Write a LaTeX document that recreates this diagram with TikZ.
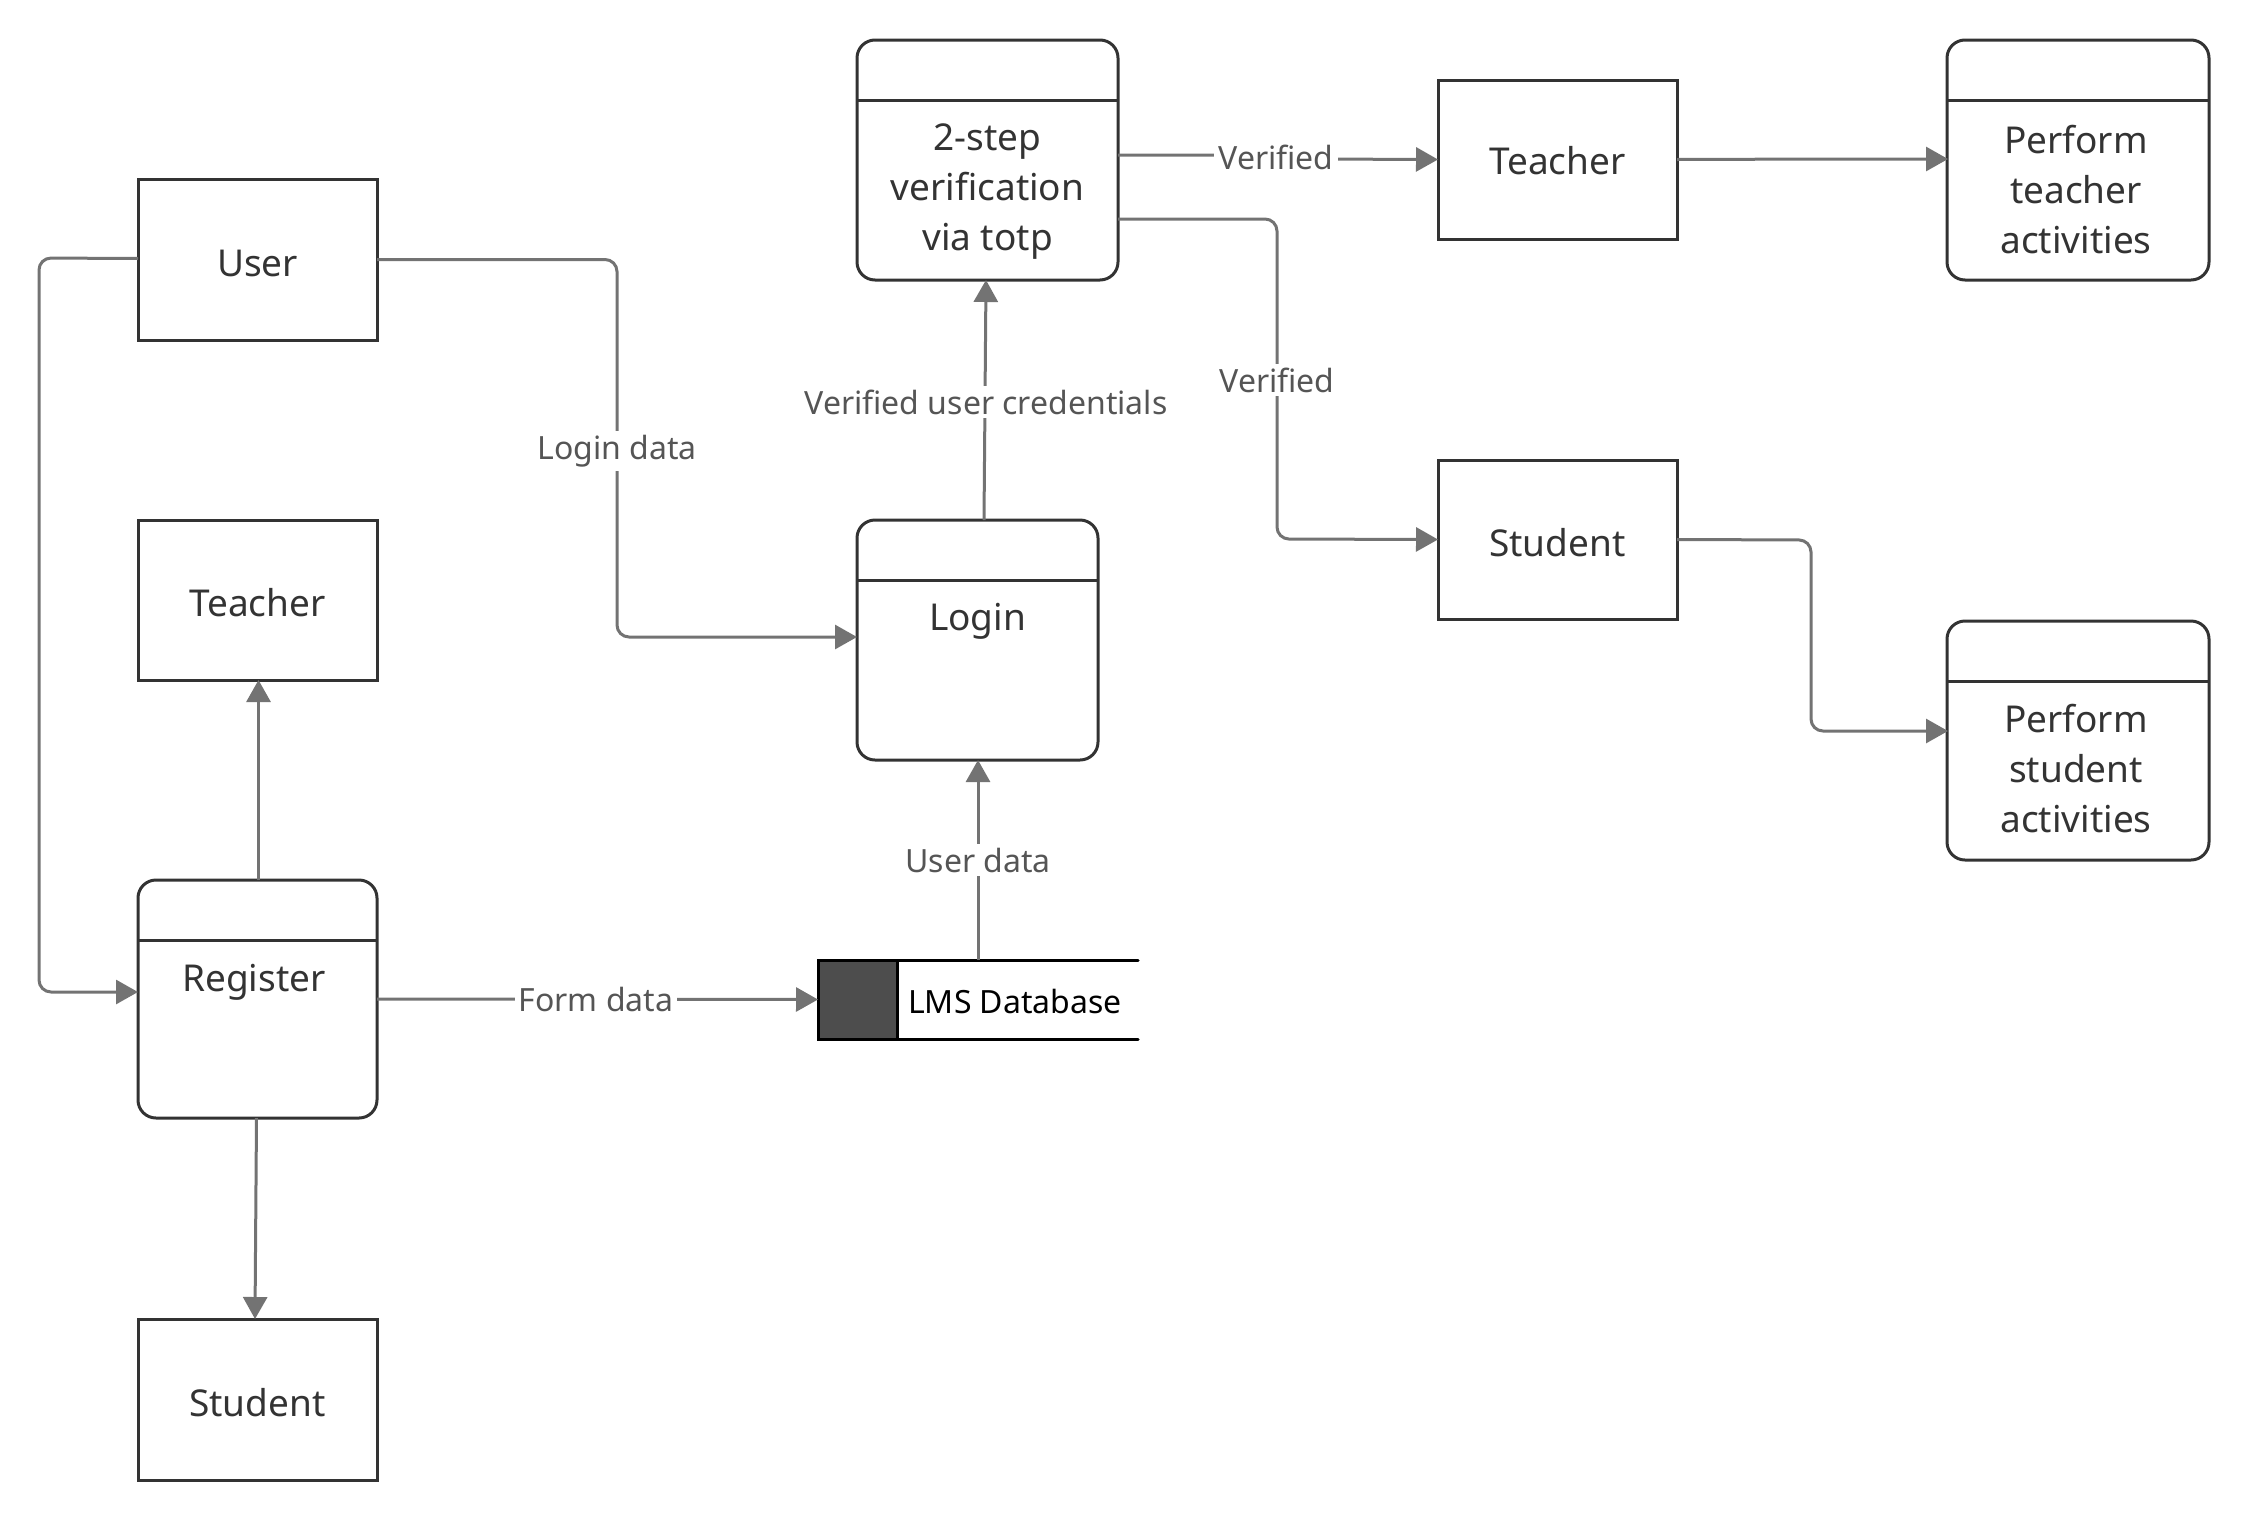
\documentclass[tikz,border=0pt]{standalone}
\usepackage{fontspec}
\setmainfont{Noto Sans}
\usetikzlibrary{arrows.meta,calc}
\definecolor{boxline}{HTML}{333333}
\definecolor{connline}{HTML}{737373}
\definecolor{lbltext}{HTML}{555555}
\definecolor{storefill}{HTML}{4D4D4D}
\tikzset{
  ent/.style={draw=boxline,line width=3pt,rectangle,inner sep=0pt,outer sep=0pt},
  proc/.style={draw=boxline,line width=3pt,rectangle,rounded corners=18pt,inner sep=0pt,outer sep=0pt},
  btext/.style={text=boxline,font=\fontsize{37}{50}\selectfont,align=center,inner sep=0pt},
  lbl/.style={text=lbltext,font=\fontsize{32}{38}\selectfont,fill=white,inner sep=4pt},
  conn/.style={draw=connline,line width=3pt,rounded corners=12pt,-{Triangle[length=22pt,width=24pt]}},
}
\begin{document}
\begin{tikzpicture}[x=1pt,y=-1pt]
\useasboundingbox (0,0) rectangle (2248,1521);
% entity boxes
\node[ent,minimum width=239pt,minimum height=161pt] (user) at (257.5,259.5) {};
\node[btext] (usert) at (257.5,263) {User};
\node[ent,minimum width=239pt,minimum height=160pt] (teacherL) at (257.5,600) {};
\node[btext] (teacherLt) at (257.5,603) {Teacher};
\node[ent,minimum width=239pt,minimum height=161pt] (studentL) at (257.5,1399.5) {};
\node[btext] (studentLt) at (257.5,1403) {Student};
\node[ent,minimum width=239pt,minimum height=159pt] (teacherR) at (1557.5,159.5) {};
\node[btext] (teacherRt) at (1557.5,161) {Teacher};
\node[ent,minimum width=239pt,minimum height=159pt] (studentR) at (1557.5,539.5) {};
\node[btext] (studentRt) at (1557.5,543) {Student};
% process boxes
\node[proc,minimum width=239pt,minimum height=238pt] (register) at (257.5,999) {};
\draw[boxline,line width=3pt] ([yshift=-60pt]register.north west) -- ([yshift=-60pt]register.north east);
\node[btext] (registert) at (254,982) {Register};
\node[proc,minimum width=241pt,minimum height=240pt] (login) at (977.5,640) {};
\draw[boxline,line width=3pt] ([yshift=-60pt]login.north west) -- ([yshift=-60pt]login.north east);
\node[btext] (logint) at (977.5,621) {Login};
\node[proc,minimum width=261pt,minimum height=240pt] (twostep) at (987.5,160) {};
\draw[boxline,line width=3pt] ([yshift=-60pt]twostep.north west) -- ([yshift=-60pt]twostep.north east);
\node[btext] (twostept) at (987.5,192) {2-step\\verification\\via totp};
\node[proc,minimum width=262pt,minimum height=240pt] (perfT) at (2078,160) {};
\draw[boxline,line width=3pt] ([yshift=-60pt]perfT.north west) -- ([yshift=-60pt]perfT.north east);
\node[btext] (perfTt) at (2076,190) {Perform\\teacher\\activities};
\node[proc,minimum width=262pt,minimum height=239pt] (perfS) at (2078,740.5) {};
\draw[boxline,line width=3pt] ([yshift=-60pt]perfS.north west) -- ([yshift=-60pt]perfS.north east);
\node[btext] (perfSt) at (2076,769) {Perform\\student\\activities};
% data store
\node[inner sep=0pt,outer sep=0pt,minimum width=320pt,minimum height=79pt] (lms) at (978,999.5) {};
\fill[storefill] (lms.north west) rectangle ([xshift=79pt]lms.south west);
\draw[black,line width=3pt,line cap=round] (lms.north east) -- (lms.north west) -- (lms.south west) -- (lms.south east);
\draw[black,line width=3pt] ([xshift=79pt]lms.north west) -- ([xshift=79pt]lms.south west);
\node[anchor=west,inner sep=0pt,text=black,font=\fontsize{32}{38}\selectfont] (lmst) at (908,1001) {LMS Database};
% connectors
\draw[conn] (user.east) -- (617,259.5) -- (617,637) -- (857,637);
\node[lbl] (l1) at (617,451) {Login data};
\draw[conn] ([yshift=1pt]user.west) -- (39,258) -- (39,992) -- (138,992);
\draw[conn] ([xshift=1pt]register.north) -- (258.5,680);
\draw[conn] ([xshift=-1pt]register.south) -- (255,1319);
\draw[conn] (register.east) -- (lms.west);
\node[lbl] (l2) at (596,999) {Form data};
\draw[conn] (lms.north) -- (978,760);
\node[lbl] (l3) at (978,860) {User data};
\draw[conn] (984,520) -- (986,280);
\node[lbl] (l4) at (986,402) {Verified user credentials};
\draw[conn] (1118,155) -- (1300,155) -- (1310,159) -- (teacherR.west);
\node[lbl] (l5) at (1276,157) {Verified};
\draw[conn] (1118,219) -- (1277,219) -- (1277,539) -- (teacherR.west |- studentR.west);
\node[lbl] (l6) at (1277,380) {Verified};
\draw[conn] (teacherR.east) -- (1830,159) -- (1948,159);
\draw[conn] (studentR.east) -- (1811,540) -- (1811,731) -- (1948,731);
\end{tikzpicture}
\end{document}
